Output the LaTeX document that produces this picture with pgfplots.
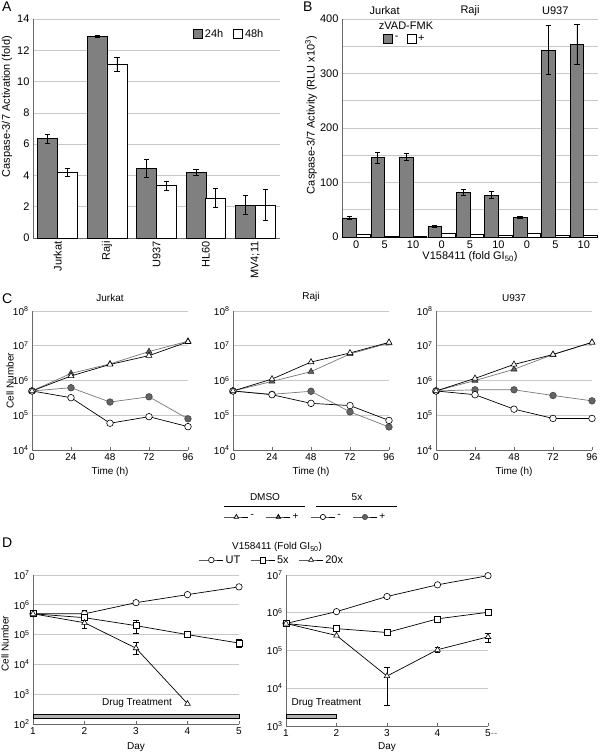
\documentclass[border=0pt]{standalone}
\usepackage{pgfplots}
\pgfplotsset{compat=1.18}
\usepackage{fontspec}
\setmainfont{Liberation Sans}
\setsansfont{Liberation Sans}

\definecolor{gridc}{RGB}{200,200,200}
\definecolor{axc}{RGB}{105,105,105}
\definecolor{barg}{RGB}{128,128,128}
\definecolor{markg}{RGB}{100,100,100}
\definecolor{lineg}{RGB}{120,120,120}

\newcommand{\fL}{\fontsize{11}{13}\selectfont}
\newcommand{\fM}{\fontsize{10}{12}\selectfont}
\newcommand{\fP}{\fontsize{14}{16}\selectfont}

\pgfplotsset{
  panel/.style={scale only axis, anchor=south west, clip=false,
    axis x line*=bottom, axis y line*=left,
    axis line style={axc, line width=0.8pt},
    ymajorgrids, grid style={gridc, line width=0.7pt},
    ytick style={draw=none}, minor tick length=0pt,
    /pgf/number format/assume math mode=true,
    tick label style={font=\fL}, label style={font=\fL}},
  barpanel/.style={panel, xtick style={draw=none},
    legend columns=2,
    legend image code/.code={\draw[line width=0.7pt, ##1] (0pt,-4.5pt) rectangle (9pt,4.5pt);},
    legend style={draw=none, fill=none, inner sep=0pt, font=\fL,
      /tikz/every even column/.append style={column sep=8pt}}},
  logpanel/.style={panel,
    yticklabel={10\textsuperscript{\pgfmathparse{int(round(\tick))}\pgfmathresult}},
    tick label style={font=\fM}, label style={font=\fM},
    xtick style={axc, line width=0.6pt}, major tick length=3pt, tick align=inside},
  errs/.style={error bars/.cd, y dir=both, y explicit,
    error bar style={black, line width=0.7pt},
    error mark options={rotate=90, mark size=2.6pt, black, line width=0.7pt},
    /pgfplots/.cd},
  mtri/.style={black, line width=0.7pt, mark=triangle*, mark size=3.4pt,
    mark options={fill=white, draw=black, line width=0.6pt}},
  ptri/.style={lineg, line width=0.7pt, mark=triangle*, mark size=3.4pt,
    mark options={fill=markg, draw=black!85, line width=0.6pt}},
  mcirc/.style={black, line width=0.7pt, mark=*, mark size=3.3pt,
    mark options={fill=white, draw=black, line width=0.6pt}},
  pcirc/.style={lineg, line width=0.7pt, mark=*, mark size=3.3pt,
    mark options={fill=markg, draw=markg!70!black, line width=0.6pt}},
  dcirc/.style={black, line width=0.7pt, mark=*, mark size=3.2pt,
    mark options={fill=white, draw=black, line width=0.6pt}},
  dsq/.style={black, line width=0.7pt, mark=square*, mark size=3pt,
    mark options={fill=white, draw=black, line width=0.6pt}},
  dtri/.style={black, line width=0.7pt, mark=triangle*, mark size=3.2pt,
    mark options={fill=white, draw=black, line width=0.6pt}},
  linelegend/.style={hide axis, scale only axis, width=1pt, height=1pt,
    xmin=0, xmax=1, ymin=0, ymax=1, anchor=south west,
    legend image code/.code={\draw[mark repeat=2, mark phase=2, ##1]
      plot coordinates {(0pt,0pt) (12pt,0pt) (24pt,0pt)};},
    legend style={at={(0,0)}, anchor=west, draw=none, fill=none,
      inner sep=0pt, outer sep=0pt}},
}

\begin{document}
\begin{tikzpicture}
\useasboundingbox (0pt,0pt) rectangle (600pt,-754pt);

% panel letters
\node[font=\fP, anchor=north west, inner sep=0pt] at (2pt,-2pt) {A};
\node[font=\fP, anchor=north west, inner sep=0pt] at (303pt,-2pt) {B};
\node[font=\fP, anchor=north west, inner sep=0pt] at (2pt,-294pt) {C};
\node[font=\fP, anchor=north west, inner sep=0pt] at (2pt,-538pt) {D};

% ---------------- A ----------------
% bars sit at category -/+ 0.2 so the error bars stay on them
\begin{axis}[barpanel, at={(33pt,-238pt)}, width=247pt, height=219pt,
  xmin=-0.5, xmax=4.5, ymin=0, ymax=14, ytick={0,2,...,14},
  xtick={0,...,4}, xticklabels={Jurkat,Raji,U937,HL60,{MV4;11}},
  xticklabel style={rotate=90, anchor=east},
  ylabel={Caspase-3/7 Activation (fold)},
  ylabel style={at={(rel axis cs:-0.105,0.6)}, anchor=center},
  legend style={at={(0.648,0.93)}, anchor=west}]
\addplot[ybar, bar width=0.405, bar shift=0pt, fill=barg, draw=black,
  line width=0.7pt, forget plot, errs] coordinates {
  (-0.2,6.35) +- (0,0.3)
  (0.8,12.9)  +- (0,0.05)
  (1.8,4.45)  +- (0,0.6)
  (2.8,4.2)   +- (0,0.2)
  (3.8,2.1)   +- (0,0.6)
};
\addplot[ybar, bar width=0.405, bar shift=0pt, fill=white, draw=black,
  line width=0.7pt, forget plot, errs] coordinates {
  (0.2,4.2)   +- (0,0.25)
  (1.2,11.1)  +- (0,0.45)
  (2.2,3.35)  +- (0,0.3)
  (3.2,2.55)  +- (0,0.6)
  (4.2,2.1)   +- (0,1.0)
};
\addlegendimage{fill=barg, draw=black}
\addlegendentry{24h}
\addlegendimage{fill=white, draw=black}
\addlegendentry{48h}
\end{axis}

% ---------------- B ----------------
\begin{axis}[barpanel, at={(342pt,-237pt)}, width=256pt, height=218pt,
  xmin=-0.5, xmax=8.5, ymin=0, ymax=400, ytick={0,100,...,400},
  minor ytick={50,150,250,350}, yminorgrids, minor grid style={gridc, line width=0.7pt},
  xtick={0,...,8}, xticklabels={0,5,10,0,5,10,0,5,10},
  ylabel={Caspase-3/7 Activity (RLU x10\textsuperscript{3})},
  ylabel style={at={(rel axis cs:-0.121,0.56)}, anchor=center},
  xlabel={V158411 (fold GI\textsubscript{50})},
  xlabel style={at={(rel axis cs:0.5,-0.092)}, anchor=center},
  legend style={at={(0.16,0.908)}, anchor=west,
    /tikz/every even column/.append style={column sep=6pt}}]
\addplot[ybar, bar width=0.48, bar shift=0pt, fill=barg, draw=black,
  line width=0.7pt, forget plot, errs] coordinates {
  (-0.24,35) +- (0,3)
  (0.76,146) +- (0,10)
  (1.76,147) +- (0,6)
  (2.76,19)  +- (0,2)
  (3.76,82)  +- (0,5)
  (4.76,77)  +- (0,6)
  (5.76,36)  +- (0,2)
  (6.76,343) +- (0,45)
  (7.76,354) +- (0,37)
};
\addplot[ybar, bar width=0.48, bar shift=0pt, fill=white, draw=black,
  line width=0.7pt, forget plot] coordinates {
  (0.24,5) (1.24,2) (2.24,1.5) (3.24,6) (4.24,4) (5.24,3) (6.24,6) (7.24,3) (8.24,2.5)
};
\addlegendimage{fill=barg, draw=black}
\addlegendentry{-}
\addlegendimage{fill=white, draw=black}
\addlegendentry{+}
\node[font=\fL] at (axis cs:1,400) [yshift=8pt] {Jurkat};
\node[font=\fL] at (axis cs:4,400) [yshift=8pt] {Raji};
\node[font=\fL] at (axis cs:7,400) [yshift=8pt] {U937};
\node[font=\fL] at (axis cs:1.75,387) {zVAD-FMK};
\end{axis}

% ---------------- C ----------------
\begin{axis}[ymode=log, log basis y=10, logpanel,
  at={(32pt,-450pt)}, width=156pt, height=139pt,
  xmin=0, xmax=96, ymin=1e4, ymax=1e8, xtick={0,24,48,72,96},
  ytick={1e4,1e5,1e6,1e7,1e8}, minor ytick={},
  title={Jurkat}, title style={font=\fM, at={(0.5,1)}, anchor=south, inner sep=0pt, yshift=3pt},
  xlabel={Time (h)}, xlabel style={at={(rel axis cs:0.5,-0.158)}, anchor=center},
  ylabel={Cell Number}, ylabel style={at={(rel axis cs:-0.14,0.5)}, anchor=center}]
\addplot[pcirc] coordinates {(0,5e5) (24,6.2e5) (48,2.4e5) (72,3.4e5) (96,7.9e4)};
\addplot[ptri] coordinates {(0,5e5) (24,1.6e6) (48,3.0e6) (72,6.8e6) (96,1.35e7)};
\addplot[mcirc] coordinates {(0,5e5) (24,3.2e5) (48,5.9e4) (72,9.1e4) (96,4.7e4)};
\addplot[mtri] coordinates {(0,5e5) (24,1.35e6) (48,2.9e6) (72,5.2e6) (96,1.3e7)};
\end{axis}

\begin{axis}[ymode=log, log basis y=10, logpanel,
  at={(233pt,-450pt)}, width=156pt, height=139pt,
  xmin=0, xmax=96, ymin=1e4, ymax=1e8, xtick={0,24,48,72,96},
  ytick={1e4,1e5,1e6,1e7,1e8}, minor ytick={},
  title={Raji}, title style={font=\fM, at={(0.5,1)}, anchor=south, inner sep=0pt, yshift=3pt},
  xlabel={Time (h)}, xlabel style={at={(rel axis cs:0.5,-0.158)}, anchor=center}]
\addplot[pcirc] coordinates {(0,5e5) (24,4.0e5) (48,4.9e5) (72,1.25e5) (96,4.6e4)};
\addplot[ptri] coordinates {(0,5e5) (24,9.4e5) (48,1.8e6) (72,5.8e6) (96,1.2e7)};
\addplot[mcirc] coordinates {(0,5e5) (24,3.9e5) (48,2.2e5) (72,1.9e5) (96,7.1e4)};
\addplot[mtri] coordinates {(0,5e5) (24,1.1e6) (48,3.4e6) (72,6.2e6) (96,1.25e7)};
\end{axis}

\begin{axis}[ymode=log, log basis y=10, logpanel,
  at={(436pt,-450pt)}, width=156pt, height=139pt,
  xmin=0, xmax=96, ymin=1e4, ymax=1e8, xtick={0,24,48,72,96},
  ytick={1e4,1e5,1e6,1e7,1e8}, minor ytick={},
  title={U937}, title style={font=\fM, at={(0.5,1)}, anchor=south, inner sep=0pt, yshift=3pt},
  xlabel={Time (h)}, xlabel style={at={(rel axis cs:0.5,-0.158)}, anchor=center}]
\addplot[pcirc] coordinates {(0,5e5) (24,5.4e5) (48,5.4e5) (72,3.7e5) (96,2.6e5)};
\addplot[ptri] coordinates {(0,5e5) (24,1.0e6) (48,2.1e6) (72,5.6e6) (96,1.25e7)};
\addplot[mcirc] coordinates {(0,5e5) (24,3.9e5) (48,1.5e5) (72,8.1e4) (96,8.1e4)};
\addplot[mtri] coordinates {(0,5e5) (24,1.15e6) (48,2.9e6) (72,5.6e6) (96,1.25e7)};
\end{axis}

% C legend
\node[font=\fM] at (265pt,-497pt) {DMSO};
\node[font=\fM] at (357pt,-497pt) {5x};
\draw[black, line width=0.7pt] (224pt,-506pt) -- (305pt,-506pt);
\draw[black, line width=0.7pt] (316pt,-506pt) -- (397pt,-506pt);
\begin{axis}[linelegend, at={(224pt,-517pt)}, legend columns=4,
  legend style={font=\fM, /tikz/every even column/.append style={column sep=10pt}}]
\addlegendimage{black, line width=0.7pt, mark=triangle*, mark size=2.6pt, mark options={fill=white, draw=black}}
\addlegendentry{-}
\addlegendimage{black, line width=0.7pt, mark=triangle*, mark size=2.6pt, mark options={fill=markg, draw=black}}
\addlegendentry{+}
\addlegendimage{black, line width=0.7pt, mark=*, mark size=2.6pt, mark options={fill=white, draw=black}}
\addlegendentry{-}
\addlegendimage{black, line width=0.7pt, mark=*, mark size=2.6pt, mark options={fill=markg, draw=markg!70!black}}
\addlegendentry{+}
\end{axis}

% ---------------- D ----------------
\node[font=\fM] at (277pt,-547pt) {V158411 (Fold GI\textsubscript{50})};
\begin{axis}[linelegend, at={(199pt,-560pt)}, legend columns=3,
  legend style={font=\fL, /tikz/every even column/.append style={column sep=8pt}}]
\addlegendimage{dcirc, mark size=2.8pt}
\addlegendentry{UT}
\addlegendimage{dsq, mark size=2.8pt}
\addlegendentry{5x}
\addlegendimage{dtri, mark size=2.8pt}
\addlegendentry{20x}
\end{axis}

\begin{axis}[ymode=log, log basis y=10, logpanel,
  at={(33pt,-724pt)}, width=206pt, height=149pt,
  xmin=1, xmax=5, ymin=1e2, ymax=1e7, xtick={1,...,5},
  ytick={1e2,1e3,1e4,1e5,1e6,1e7}, minor ytick={},
  xlabel={Day}, xlabel style={at={(rel axis cs:0.5,-0.154)}, anchor=center},
  ylabel={Cell Number}, ylabel style={at={(rel axis cs:-0.136,0.54)}, anchor=center}]
\draw[fill=gray!60, draw=black, line width=0.6pt] (rel axis cs:0,0.035) rectangle (rel axis cs:1,0.068);
\node[font=\fM] at (rel axis cs:0.505,0.14) {Drug Treatment};
\addplot[dcirc, errs] coordinates {
  (1,5e5) (2,5e5) += (0,1.5e5) -= (0,1.3e5) (3,1.18e6) (4,2.2e6) (5,4.0e6)};
\addplot[dsq, errs] coordinates {
  (1,5e5) (2,3.7e5) (3,2.0e5) += (0,0.9e5) -= (0,0.9e5) (4,1.0e5)
  (5,5.2e4) += (0,1.6e4) -= (0,1.5e4)};
\addplot[dtri, errs] coordinates {
  (1,5e5) (2,2.5e5) += (0,0.9e5) -= (0,0.9e5)
  (3,3.5e4) += (0,2e4) -= (0,1.3e4) (4,4.8e2)};
\end{axis}

\begin{axis}[ymode=log, log basis y=10, logpanel,
  at={(286pt,-726pt)}, width=202pt, height=151pt,
  xmin=1, xmax=5, ymin=1e3, ymax=1e7, xtick={1,...,5},
  xticklabels={1,2,3,4,{5\rlap{\textcolor{gray}{-{}-}}}},
  ytick={1e3,1e4,1e5,1e6,1e7}, minor ytick={},
  xlabel={Day}, xlabel style={at={(rel axis cs:0.5,-0.139)}, anchor=center}]
\draw[fill=gray!60, draw=black, line width=0.6pt] (rel axis cs:0,0.053) rectangle (rel axis cs:0.25,0.08);
\node[font=\fM, anchor=west] at (rel axis cs:0.01,0.152) {Drug Treatment};
\addplot[dcirc] coordinates {(1,5.2e5) (2,1.07e6) (3,2.7e6) (4,5.5e6) (5,9.6e6)};
\addplot[dsq] coordinates {(1,5.2e5) (2,3.8e5) (3,3.0e5) (4,6.9e5) (5,1.03e6)};
\addplot[dtri, errs] coordinates {
  (1,5.2e5) (2,2.5e5) (3,2.1e4) += (0,1.5e4) -= (0,1.75e4)
  (4,1.05e5) += (0,1.5e4) -= (0,1.5e4) (5,2.3e5) += (0,0.6e5) -= (0,0.7e5)};
\end{axis}
\end{tikzpicture}
\end{document}
